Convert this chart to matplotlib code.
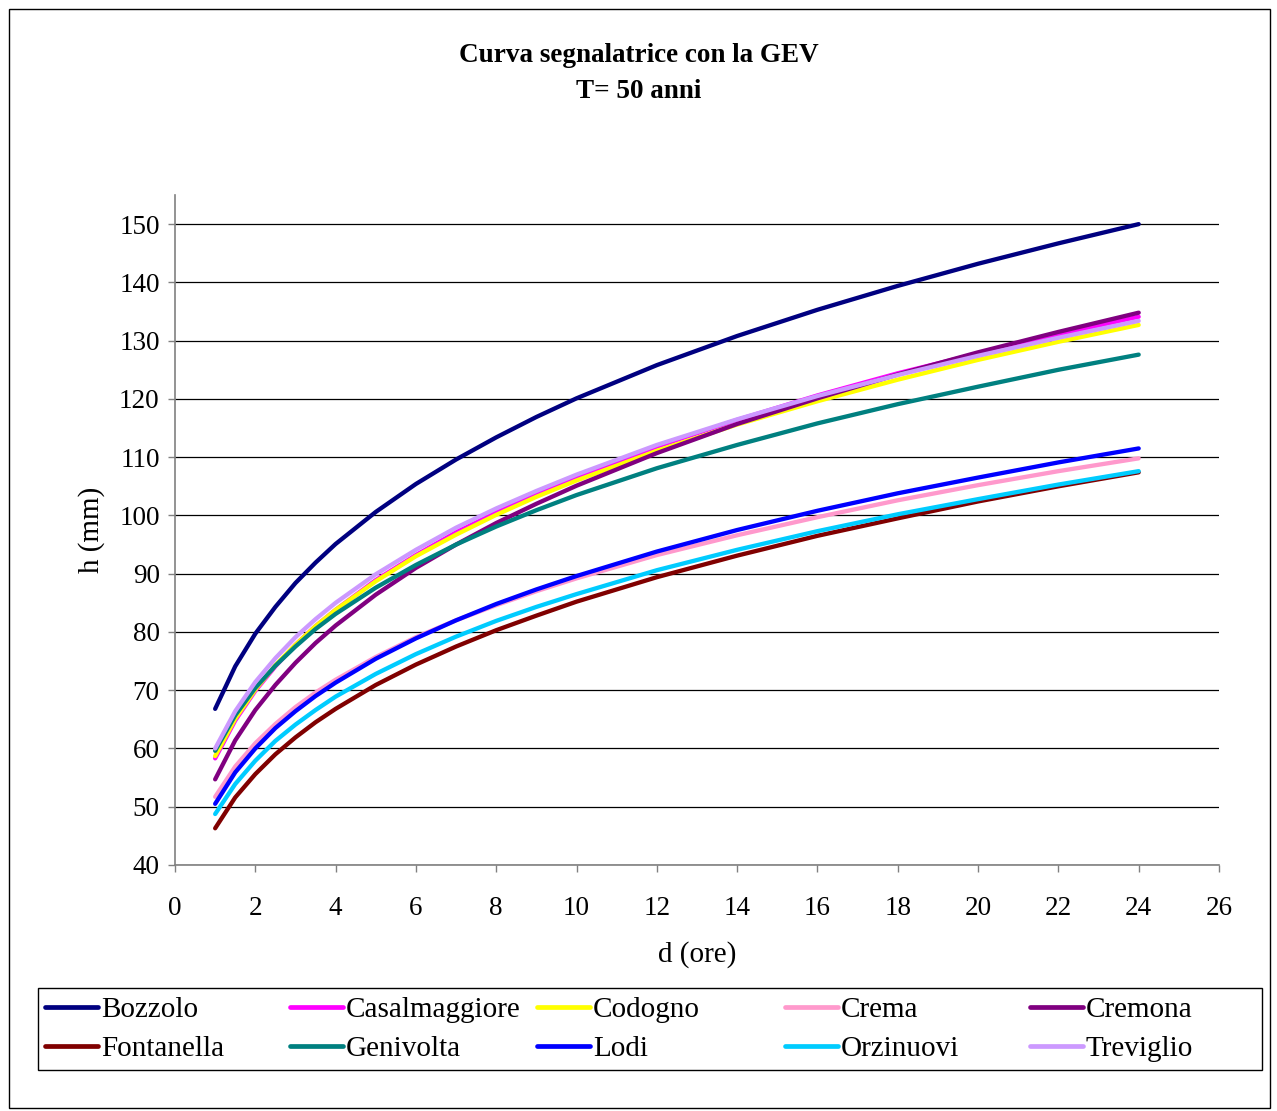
import matplotlib
matplotlib.use("Agg")
import matplotlib.pyplot as plt
from matplotlib.patches import Rectangle

plt.rcParams["font.family"] = ["Liberation Serif", "DejaVu Serif"]

# ---------------------------------------------------------------------------
# Dati (h in mm, durata d in ore)
# ---------------------------------------------------------------------------
durata = [1, 1.5, 2, 2.5, 3, 3.5, 4, 5, 6, 7, 8, 9, 10, 12, 14, 16, 18, 20, 22, 24]

bozzolo = [66.8, 74.1, 79.7, 84.3, 88.4, 91.9, 95.1, 100.6, 105.4, 109.6, 113.4, 116.9,
           120.1, 125.8, 130.8, 135.3, 139.4, 143.2, 146.7, 150.0]
casalmaggiore = [58.3, 64.8, 69.9, 74.1, 77.8, 81.0, 83.8, 88.9, 93.2, 97.1, 100.5, 103.7,
                 106.6, 111.8, 116.4, 120.6, 124.4, 127.8, 131.1, 134.1]
codogno = [58.7, 65.1, 70.1, 74.3, 77.8, 81.0, 83.8, 88.7, 93.0, 96.7, 100.1, 103.2,
           106.0, 111.1, 115.6, 119.6, 123.3, 126.7, 129.8, 132.7]
crema = [51.7, 56.9, 60.9, 64.2, 67.1, 69.6, 71.8, 75.7, 79.1, 82.0, 84.6, 87.0,
         89.2, 93.2, 96.6, 99.7, 102.6, 105.2, 107.6, 109.8]
cremona = [54.7, 61.4, 66.6, 70.9, 74.7, 78.1, 81.1, 86.4, 91.0, 95.0, 98.7, 102.0,
           105.1, 110.7, 115.7, 120.1, 124.2, 128.0, 131.5, 134.8]
fontanella = [46.3, 51.6, 55.6, 59.0, 61.9, 64.5, 66.8, 70.9, 74.4, 77.5, 80.3, 82.8,
              85.2, 89.4, 93.1, 96.5, 99.5, 102.4, 105.0, 107.4]
genivolta = [59.6, 65.7, 70.4, 74.2, 77.5, 80.5, 83.1, 87.6, 91.5, 95.0, 98.1, 100.9,
             103.5, 108.1, 112.1, 115.8, 119.1, 122.1, 125.0, 127.6]
lodi = [50.5, 55.9, 60.0, 63.5, 66.4, 69.0, 71.3, 75.4, 78.9, 82.0, 84.8, 87.3,
        89.6, 93.8, 97.5, 100.8, 103.8, 106.5, 109.1, 111.5]
orzinuovi = [48.75, 53.9, 57.9, 61.3, 64.1, 66.6, 68.9, 72.8, 76.2, 79.2, 81.9, 84.3,
             86.5, 90.6, 94.1, 97.3, 100.2, 102.8, 105.3, 107.6]
treviglio = [60.0, 66.4, 71.4, 75.5, 79.1, 82.2, 85.0, 89.9, 94.1, 97.9, 101.2, 104.2,
             107.0, 112.1, 116.5, 120.5, 124.1, 127.4, 130.5, 133.4]

stazioni = [
    ("Bozzolo", bozzolo, "#000080"),
    ("Casalmaggiore", casalmaggiore, "#FF00FF"),
    ("Codogno", codogno, "#FFFF00"),
    ("Crema", crema, "#FF99CC"),
    ("Cremona", cremona, "#800080"),
    ("Fontanella", fontanella, "#800000"),
    ("Genivolta", genivolta, "#008080"),
    ("Lodi", lodi, "#0000FF"),
    ("Orzinuovi", orzinuovi, "#00CCFF"),
    ("Treviglio", treviglio, "#CC99FF"),
]

x_ticks = list(range(0, 27, 2))
y_ticks = list(range(40, 151, 10))

# ---------------------------------------------------------------------------
# Figura
# ---------------------------------------------------------------------------
W, H = 1277, 1111
fig = plt.figure(figsize=(W / 100, H / 100), dpi=100)
ax = fig.add_axes([175 / W, 1 - 865 / H, (1219 - 175) / W, (865 - 195) / H])

handles = []
for nome, valori, colore in stazioni:
    (ln,) = ax.plot(durata, valori, color=colore, lw=3.1, label=nome,
                    solid_capstyle="round", solid_joinstyle="round")
    handles.append(ln)

ax.set_xlim(0, 26)
ax.set_ylim(40, 155)
ax.set_xticks(x_ticks)
ax.set_yticks(y_ticks)
ax.grid(axis="y", color="black", lw=0.9)
ax.set_axisbelow(True)

for s in ("top", "right"):
    ax.spines[s].set_visible(False)
for s in ("left", "bottom"):
    ax.spines[s].set_color("#808080")
    ax.spines[s].set_linewidth(1.2)
ax.tick_params(direction="out", length=5, width=1, color="#808080",
               labelsize=19.5)
ax.tick_params(axis="x", pad=17)
ax.tick_params(axis="y", pad=6)

ax.set_xlabel("d (ore)", fontsize=21, labelpad=15)
ax.set_ylabel("h (mm)", fontsize=21, labelpad=10)

fig.text(0.5, 1 - 56 / H, "Curva segnalatrice con la GEV", ha="center",
         va="center", fontsize=19.5, fontweight="bold")
fig.text(0.5, 1 - 91 / H, "T= 50 anni", ha="center", va="center",
         fontsize=19.5, fontweight="bold")

# legenda: 5 colonne equidistanti, due voci per colonna
col_x = [45, 290, 537, 785, 1030]
for k, x0 in enumerate(col_x):
    coppia = [handles[k], handles[k + 5]]
    leg = fig.legend(coppia, [h.get_label() for h in coppia],
                     loc="upper left", bbox_to_anchor=(x0 / W, 1 - 997 / H),
                     fontsize=21, frameon=False, handlelength=1.8,
                     handletextpad=0.12, borderpad=0, borderaxespad=0,
                     labelspacing=0.42)
    for h in leg.get_lines():
        h.set_linewidth(3.4)
        h.set_solid_capstyle("round")

fig.patches.append(Rectangle((38 / W, 1 - 1070 / H), 1224 / W, 82 / H,
                             transform=fig.transFigure, fill=False,
                             edgecolor="black", lw=1.0))

# cornice esterna
fig.patches.append(Rectangle((9 / W, 3 / H), (1270 - 9) / W, (1108 - 9) / H,
                             transform=fig.transFigure, fill=False,
                             edgecolor="black", lw=1.0))

fig.savefig("out.png", dpi=100)
